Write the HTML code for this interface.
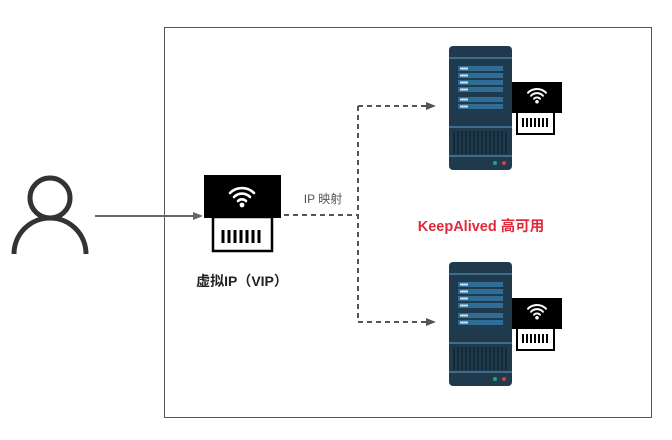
<!DOCTYPE html>
<html><head><style>html,body{margin:0;padding:0;background:#fff;}svg{display:block}</style></head><body>
<svg width="672" height="440" viewBox="0 0 672 440" xmlns="http://www.w3.org/2000/svg" font-family="Liberation Sans, Noto Sans CJK SC, sans-serif">
<defs>
<g id="srv">
  <rect x="0" y="0" width="63" height="124" rx="4" fill="#1f3a4d"/>
  <rect x="0" y="11" width="63" height="2" fill="#3e6e8c"/>
  <rect x="9" y="20" width="45" height="5" fill="#2f6d96"/>
  <rect x="9" y="27" width="45" height="5" fill="#2f6d96"/>
  <rect x="9" y="34" width="45" height="5" fill="#2f6d96"/>
  <rect x="9" y="41" width="45" height="5" fill="#2f6d96"/>
  <rect x="9" y="51" width="45" height="5" fill="#2f6d96"/>
  <rect x="9" y="58" width="45" height="5" fill="#2f6d96"/>
  <rect x="11" y="21.5" width="8" height="2" fill="#cfe3f0"/>
  <rect x="11" y="28.5" width="8" height="2" fill="#cfe3f0"/>
  <rect x="11" y="35.5" width="8" height="2" fill="#cfe3f0"/>
  <rect x="11" y="42.5" width="8" height="2" fill="#cfe3f0"/>
  <rect x="11" y="52.5" width="8" height="2" fill="#cfe3f0"/>
  <rect x="11" y="59.5" width="8" height="2" fill="#cfe3f0"/>
  <rect x="0" y="80" width="63" height="2" fill="#3e6e8c"/>
  <g stroke="#0f1f2a" stroke-width="1.2">
    <line x1="5" y1="85" x2="5" y2="108"/><line x1="9" y1="85" x2="9" y2="108"/><line x1="13" y1="85" x2="13" y2="108"/><line x1="17" y1="85" x2="17" y2="108"/><line x1="21" y1="85" x2="21" y2="108"/><line x1="25" y1="85" x2="25" y2="108"/><line x1="29" y1="85" x2="29" y2="108"/><line x1="33" y1="85" x2="33" y2="108"/><line x1="37" y1="85" x2="37" y2="108"/><line x1="41" y1="85" x2="41" y2="108"/><line x1="45" y1="85" x2="45" y2="108"/><line x1="49" y1="85" x2="49" y2="108"/><line x1="53" y1="85" x2="53" y2="108"/><line x1="57" y1="85" x2="57" y2="108"/>
  </g>
  <rect x="0" y="109" width="63" height="2" fill="#3e6e8c"/>
  <circle cx="46" cy="117" r="2" fill="#2ea36b"/>
  <circle cx="55" cy="117" r="2" fill="#d0404a"/>
</g>
<g id="wifi">
  <path d="M-12,-3 A17,17 0 0 1 12,-3" fill="none" stroke="#fff" stroke-width="2.6" stroke-linecap="round"/>
  <path d="M-8,1 A11,11 0 0 1 8,1" fill="none" stroke="#fff" stroke-width="2.6" stroke-linecap="round"/>
  <path d="M-4,5 A5.5,5.5 0 0 1 4,5" fill="none" stroke="#fff" stroke-width="2.6" stroke-linecap="round"/>
  <circle cx="0" cy="9" r="2.4" fill="#fff"/>
</g>
<g id="card">
  <rect x="5" y="30" width="37" height="22" fill="#fff" stroke="#000" stroke-width="2"/>
  <g stroke="#000" stroke-width="2"><line x1="11" y1="36" x2="11" y2="45"/><line x1="15" y1="36" x2="15" y2="45"/><line x1="19" y1="36" x2="19" y2="45"/><line x1="23" y1="36" x2="23" y2="45"/><line x1="27" y1="36" x2="27" y2="45"/><line x1="31" y1="36" x2="31" y2="45"/><line x1="35" y1="36" x2="35" y2="45"/></g>
  <rect x="0" y="0" width="50" height="31" fill="#000"/>
  <use href="#wifi" transform="translate(25,13) scale(0.75)"/>
</g>
</defs>
<rect x="164.5" y="27.5" width="487" height="390" fill="#fff" stroke="#555" stroke-width="1"/>
<circle cx="50" cy="198" r="20" fill="none" stroke="#333" stroke-width="5"/>
<path d="M14,254 A36,36 0 0 1 86,254" fill="none" stroke="#333" stroke-width="5"/>
<line x1="95" y1="216" x2="194" y2="216" stroke="#666" stroke-width="2"/>
<polygon points="203,216 193,212 193,220" fill="#666"/>
<rect x="213" y="217" width="59" height="34" fill="#fff" stroke="#000" stroke-width="2.5"/>
<g stroke="#000" stroke-width="3"><line x1="223" y1="230" x2="223" y2="243"/><line x1="229" y1="230" x2="229" y2="243"/><line x1="235" y1="230" x2="235" y2="243"/><line x1="241" y1="230" x2="241" y2="243"/><line x1="247" y1="230" x2="247" y2="243"/><line x1="253" y1="230" x2="253" y2="243"/><line x1="259" y1="230" x2="259" y2="243"/></g>
<rect x="204" y="175" width="77" height="43" fill="#000"/>
<use href="#wifi" transform="translate(242,196)"/>
<text x="242" y="286" font-size="14" font-weight="bold" fill="#222" text-anchor="middle">虚拟IP（VIP）</text>
<g stroke="#555" stroke-width="2" stroke-dasharray="5,4" fill="none">
<line x1="284" y1="215" x2="358" y2="215"/>
<line x1="358" y1="106" x2="358" y2="322"/>
<line x1="358" y1="106" x2="428" y2="106"/>
<line x1="358" y1="322" x2="428" y2="322"/>
</g>
<polygon points="436,106 426,102 426,110" fill="#555"/>
<polygon points="436,322 426,318 426,326" fill="#555"/>
<text x="323" y="203" font-size="12" fill="#555" text-anchor="middle">IP 映射</text>
<text x="481" y="231" font-size="14.5" font-weight="bold" fill="#e02a3a" text-anchor="middle">KeepAlived 高可用</text>
<use href="#srv" transform="translate(449,46)"/>
<use href="#card" transform="translate(512,82)"/>
<use href="#srv" transform="translate(449,262)"/>
<use href="#card" transform="translate(512,298)"/>
</svg>
</body></html>
